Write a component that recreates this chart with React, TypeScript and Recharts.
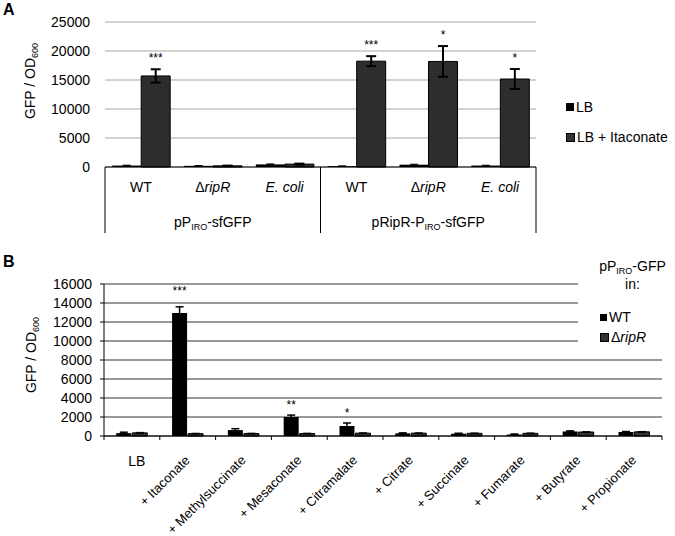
import React from 'react';
import { BarChart, Bar, XAxis, YAxis, CartesianGrid, ErrorBar, LabelList, Legend } from 'recharts';

const FONT = "Arial, 'Liberation Sans', sans-serif";

// ---------- Panel A data ----------
const strainsA = ['WT', 'ΔripR', 'E. coli', 'WT', 'ΔripR', 'E. coli'];
const plasmidsA = ['pP|IRO|-sfGFP', 'pRipR-P|IRO|-sfGFP'];
const lbA = [250, 200, 450, 150, 400, 250];
const lbErrA = [60, 40, 80, 40, 80, 50];
const itacA = [15700, 200, 500, 18250, 18200, 15170];
const itacErrA = [1150, 40, 80, 860, 2650, 1720];
const sigA = ['***', '', '', '***', '*', '*'];
const yTicksA = [0, 5000, 10000, 15000, 20000, 25000];
const seriesA = ['LB', 'LB + Itaconate'];

// ---------- Panel B data ----------
const treatmentsB = ['LB', '+ Itaconate', '+ Methylsuccinate', '+ Mesaconate', '+ Citramalate', '+ Citrate', '+ Succinate', '+ Fumarate', '+ Butyrate', '+ Propionate'];
const wtB = [300, 12950, 620, 2000, 1050, 280, 240, 170, 480, 420];
const wtErrB = [100, 650, 150, 200, 320, 50, 50, 40, 60, 50];
const ripB = [330, 250, 260, 260, 300, 300, 280, 280, 420, 440];
const ripErrB = [50, 40, 40, 40, 40, 40, 40, 40, 40, 40];
const sigB = ['', '***', '', '**', '*', '', '', '', '', ''];
const yTicksB = [0, 2000, 4000, 6000, 8000, 10000, 12000, 14000, 16000];
const seriesB = ['WT', 'ΔripR'];

const dataA = strainsA.map((s, i) => ({ id: `a${i}`, name: s, lb: lbA[i], lbErr: lbErrA[i], itac: itacA[i], itacErr: itacErrA[i], sig: sigA[i] }));
const dataB = treatmentsB.map((t, i) => ({ id: `b${i}`, name: t, wt: wtB[i], wtErr: wtErrB[i], rip: ripB[i], ripErr: ripErrB[i], sig: sigB[i] }));

// layout constants
const W = 675;
const HA = 240;
const MA = { top: 22, right: 139, bottom: 3, left: 0 };
const YW_A = 105;
const XH_A = 70;
const PLOT_W_A = W - MA.right - YW_A;
const PLOT_H_A = HA - MA.top - MA.bottom - XH_A;

const HB = 296;
const MB = { top: 44, right: 13, bottom: 0, left: 0 };
const YW_B = 104;
const XH_B = 100;
const PLOT_W_B = W - MB.right - YW_B;
const PLOT_H_B = HB - MB.top - MB.bottom - XH_B;

const renderStrain = (s: string) => {
  if (s === 'ΔripR') return (<><tspan>Δ</tspan><tspan fontStyle="italic">ripR</tspan></>);
  if (s === 'E. coli') return <tspan fontStyle="italic">{s}</tspan>;
  return <tspan>{s}</tspan>;
};

const renderSubText = (s: string) => {
  const parts = s.split('|');
  return parts.map((p, i) =>
    i % 2 === 1 ? (
      <tspan key={i} fontSize={9} dy={3}>{p}</tspan>
    ) : (
      <tspan key={i} dy={i > 0 ? -3 : 0}>{p}</tspan>
    )
  );
};

const TickA = (props: any) => {
  const { x, y, index } = props;
  const band = PLOT_W_A / strainsA.length;
  const lineH = 66;
  return (
    <g>
      <text x={x} y={y + 25} textAnchor="middle" fontSize={14} fontFamily={FONT} fill="#000">
        {renderStrain(strainsA[index])}
      </text>
      {index % 3 === 1 && (
        <text x={x} y={y + 60} textAnchor="middle" fontSize={14} fontFamily={FONT} fill="#000">
          {renderSubText(plasmidsA[Math.floor(index / 3)])}
        </text>
      )}
      {index === 0 && <line x1={x - band / 2} x2={x - band / 2} y1={y} y2={y + lineH} stroke="#000" strokeWidth={1} />}
      {index % 3 === 2 && <line x1={x + band / 2} x2={x + band / 2} y1={y} y2={y + lineH} stroke="#000" strokeWidth={1} />}
    </g>
  );
};

const TickB = (props: any) => {
  const { x, y, index } = props;
  const band = PLOT_W_B / treatmentsB.length;
  const label = treatmentsB[index];
  const ax = x + 3;
  const ay = y + 25;
  return (
    <g>
      <line x1={x - band / 2} x2={x - band / 2} y1={y} y2={y + 4} stroke="#000" />
      {index === treatmentsB.length - 1 && <line x1={x + band / 2} x2={x + band / 2} y1={y} y2={y + 4} stroke="#000" />}
      {index === 0 ? (
        <text x={x + 5} y={y + 30} textAnchor="middle" fontSize={14} fontFamily={FONT} fill="#000">{label}</text>
      ) : (
        <text x={ax} y={ay} textAnchor="end" fontSize={13} fontFamily={FONT} fill="#000" transform={`rotate(-45, ${ax}, ${ay})`}>{label}</text>
      )}
    </g>
  );
};

const sigLabelA = (props: any) => {
  const { x, y, width, value, index } = props;
  if (!value) return null;
  const errPx = (itacErrA[index] * PLOT_H_A) / yTicksA[yTicksA.length - 1];
  return (
    <text x={x + width / 2} y={y - errPx - 7} textAnchor="middle" fontSize={12} fontFamily={FONT} fill="#000">{value}</text>
  );
};

const sigLabelB = (props: any) => {
  const { x, y, width, value, index } = props;
  if (!value) return null;
  const errPx = (wtErrB[index] * PLOT_H_B) / yTicksB[yTicksB.length - 1];
  return (
    <text x={x + width / 2} y={y - errPx - (index === 1 ? 12 : 6)} textAnchor="middle" fontSize={12} fontFamily={FONT} fill="#000">{value}</text>
  );
};

const yLabel = (cx: number, cy: number) => () => (
  <text transform={`translate(${cx}, ${cy}) rotate(-90)`} textAnchor="middle" fontSize={14} fontFamily={FONT} fill="#000">
    GFP / OD<tspan fontSize={9} dy={3}>600</tspan>
  </text>
);

const LegendA = () => (
  <div style={{ position: 'relative', width: 110, height: 55, fontFamily: FONT, fontSize: 14, color: '#000' }}>
    {seriesA.map((s, i) => (
      <div key={s} style={{ position: 'absolute', left: 0, top: i * 30, height: 20, display: 'flex', alignItems: 'center', whiteSpace: 'nowrap' }}>
        <span style={{ display: 'inline-block', width: i === 0 ? 8 : 7, height: i === 0 ? 8 : 7, background: i === 0 ? '#000' : '#333', border: i === 0 ? 'none' : '1px solid #000', marginRight: 2 }} />
        {s}
      </div>
    ))}
  </div>
);

const LegendB = () => (
  <div style={{ position: 'relative', width: 97, height: 92, background: '#fff', fontFamily: FONT, fontSize: 14, color: '#000', lineHeight: '15px' }}>
    <div style={{ position: 'absolute', left: 12, top: 1, width: 85, height: 15, textAlign: 'center', whiteSpace: 'nowrap' }}>
      pP<span style={{ fontSize: 9, position: 'relative', top: 3, lineHeight: '9px' }}>IRO</span>-GFP
    </div>
    <div style={{ position: 'absolute', left: 12, top: 19, width: 85, height: 15, textAlign: 'center' }}>in:</div>
    {seriesB.map((s, i) => (
      <div key={s} style={{ position: 'absolute', left: 22, top: 50 + i * 20, height: 18, display: 'flex', alignItems: 'center', whiteSpace: 'nowrap' }}>
        <span style={{ display: 'inline-block', width: 7, height: 7, background: i === 0 ? '#000' : '#333', border: i === 0 ? 'none' : '1px solid #000', marginRight: 2 }} />
        {i === 0 ? s : (<span>Δ<i>ripR</i></span>)}
      </div>
    ))}
  </div>
);

export default function App() {
  return (
    <div style={{ position: 'absolute', left: 0, top: 0, width: W, height: 536, background: '#fff', fontFamily: FONT, overflow: 'hidden' }}>
      <div style={{ position: 'absolute', left: 0, top: 0 }}>
        <BarChart width={W} height={HA} data={dataA} margin={MA} barCategoryGap="10%" barGap={0}>
          <CartesianGrid vertical={false} stroke="#a6a6a6" />
          <XAxis dataKey="id" height={XH_A} interval={0} tickSize={0} tickMargin={0} tickLine={false} axisLine={{ stroke: '#000' }} tick={(p: any) => <TickA {...p} />} />
          <YAxis width={YW_A} domain={[0, 25000]} ticks={yTicksA} interval={0} axisLine={false} tickLine={false} tickSize={0} tickMargin={15}
            tick={{ fontSize: 14, fill: '#000', fontFamily: FONT }} label={{ content: yLabel(35, 81) }} />
          <Legend layout="vertical" align="center" verticalAlign="middle" wrapperStyle={{ left: 566, top: 97, width: 110 }} content={() => <LegendA />} />
          <Bar dataKey="lb" name="LB" fill="#000" isAnimationActive={false}>
            <ErrorBar dataKey="lbErr" width={4} stroke="#000" strokeWidth={1} />
          </Bar>
          <Bar dataKey="itac" name="LB + Itaconate" fill="#2d2d2d" stroke="#000" strokeWidth={1} isAnimationActive={false}>
            <ErrorBar dataKey="itacErr" width={5} stroke="#000" strokeWidth={2} />
            <LabelList dataKey="sig" content={sigLabelA} />
          </Bar>
        </BarChart>
      </div>
      <div style={{ position: 'absolute', left: 0, top: HA }}>
        <BarChart width={W} height={HB} data={dataB} margin={MB} barCategoryGap="22%" barGap={1}>
          <CartesianGrid vertical={false} stroke="#333" />
          <XAxis dataKey="id" height={XH_B} interval={0} tickSize={0} tickMargin={0} tickLine={false} axisLine={{ stroke: '#000' }} tick={(p: any) => <TickB {...p} />} />
          <YAxis width={YW_B} domain={[0, 16000]} ticks={yTicksB} interval={0} axisLine={{ stroke: '#000' }} tickLine={{ stroke: '#000' }} tickSize={4} tickMargin={8}
            tick={{ fontSize: 14, fill: '#000', fontFamily: FONT }} label={{ content: yLabel(36, 115) }} />
          <Legend layout="vertical" align="center" verticalAlign="middle" wrapperStyle={{ left: 578, top: 18, width: 97 }} content={() => <LegendB />} />
          <Bar dataKey="wt" name="WT" fill="#000" isAnimationActive={false}>
            <ErrorBar dataKey="wtErr" width={4} stroke="#000" strokeWidth={1.5} />
            <LabelList dataKey="sig" content={sigLabelB} />
          </Bar>
          <Bar dataKey="rip" name="ΔripR" fill="#333" stroke="#000" strokeWidth={1} isAnimationActive={false}>
            <ErrorBar dataKey="ripErr" width={4} stroke="#000" strokeWidth={1} />
          </Bar>
        </BarChart>
      </div>
      <div style={{ position: 'absolute', left: 3, top: 1, fontWeight: 'bold', fontSize: 16, fontFamily: FONT }}>A</div>
      <div style={{ position: 'absolute', left: 3, top: 253, fontWeight: 'bold', fontSize: 16, fontFamily: FONT }}>B</div>
    </div>
  );
}
